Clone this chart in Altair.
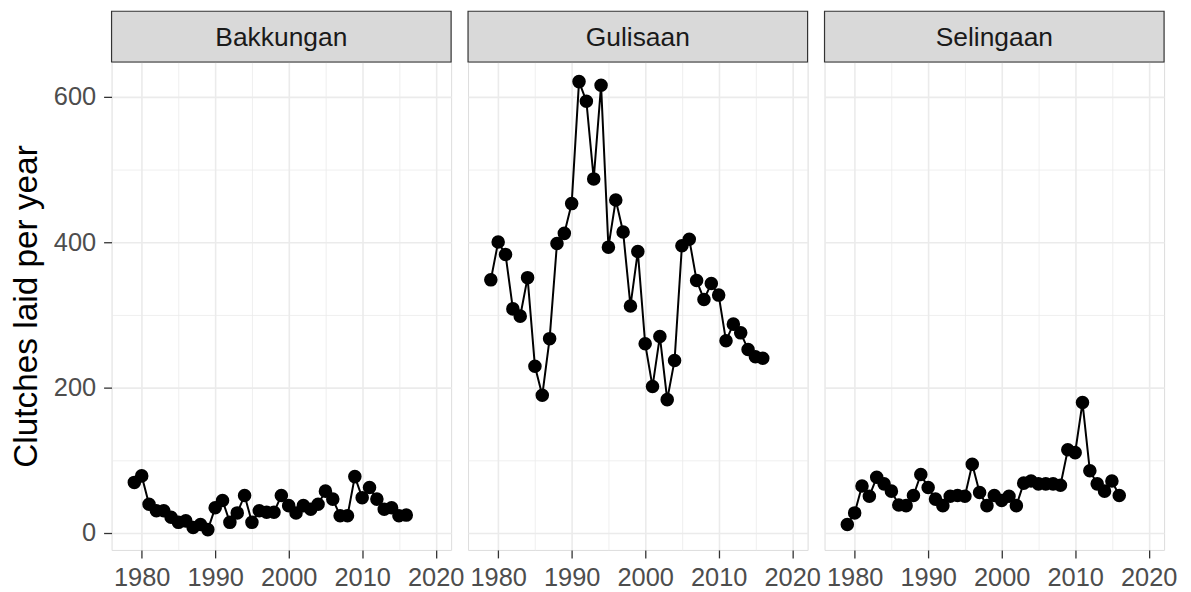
import altair as alt
import pandas as pd

years = list(range(1979, 2017))
sites = ["Bakkungan", "Gulisaan", "Selingaan"]
bakkungan = [69, 78, 39, 30, 30, 21, 14, 16, 7, 11,
             4, 34, 44, 14, 27, 51, 14, 30, 28, 28,
             51, 37, 27, 37, 32, 39, 57, 46, 23, 23,
             77, 48, 62, 46, 32, 34, 23, 24]
gulisaan = [348, 400, 383, 308, 298, 351, 229, 189, 267, 398,
            412, 453, 621, 594, 487, 616, 393, 458, 414, 312,
            387, 260, 201, 270, 183, 237, 395, 404, 347, 321,
            343, 327, 264, 287, 275, 252, 242, 240]
selingaan = [11, 27, 64, 50, 76, 67, 57, 38, 37, 51,
             80, 62, 46, 37, 50, 51, 50, 94, 55, 37,
             51, 44, 50, 37, 68, 71, 67, 67, 67, 65,
             114, 110, 179, 85, 67, 57, 71, 51]
x_ticks = [1980, 1985, 1990, 1995, 2000, 2005, 2010, 2015, 2020]
y_ticks = [0, 100, 200, 300, 400, 500, 600]
y_title = "Clutches laid per year"

rows = []
for site, vals in zip(sites, [bakkungan, gulisaan, selingaan]):
    for yr, v in zip(years, vals):
        rows.append({"site": site, "year": yr, "clutches": v})
df = pd.DataFrame(rows)

W, H = 341, 490
STRIP = 51
FONT = "Liberation Sans"
x_dom = [1975.9, 2022.1]
y_dom = [-24, 648]
major_x = "datum.value % 10 === 0"
major_y = "datum.value % 200 === 0"
GRID = "#EBEBEB"


def cond(test, a, b):
    return {"condition": {"test": test, "value": a}, "value": b}


def panel(i, site):
    x_axis = alt.Axis(
        values=x_ticks, title=None, domain=False, format="d",
        labelExpr=f"{major_x} ? datum.label : ''",
        labelFont=FONT, labelFontSize=25.5, labelColor="#4D4D4D",
        labelPadding=8, labelFlush=False, labelOverlap=False,
        tickSize=8, tickWidth=1.3,
        tickColor=cond(major_x, "#333333", "transparent"),
        gridColor=GRID, gridWidth=cond(major_x, 1.6, 0.8),
    )
    if i == 0:
        y_axis = alt.Axis(
            values=y_ticks, title=y_title, domain=False, format="d",
            labelExpr=f"{major_y} ? datum.label : ''",
            labelFont=FONT, labelFontSize=25.5, labelColor="#4D4D4D",
            labelPadding=8, labelFlush=False, labelOverlap=False,
            tickSize=8, tickWidth=1.3,
            tickColor=cond(major_y, "#333333", "transparent"),
            gridColor=GRID, gridWidth=cond(major_y, 1.6, 0.8),
            titleFont=FONT, titleFontSize=33.5, titleFontWeight="normal",
            titleColor="#000000", titlePadding=10,
        )
    else:
        y_axis = alt.Axis(
            values=y_ticks, title=None, domain=False, labels=False,
            ticks=False,
            gridColor=GRID, gridWidth=cond(major_y, 1.6, 0.8),
        )
    base = alt.Chart(df).transform_filter(alt.datum.site == site)
    enc = dict(
        x=alt.X("year:Q", scale=alt.Scale(domain=x_dom, nice=False, zero=False), axis=x_axis),
        y=alt.Y("clutches:Q", scale=alt.Scale(domain=y_dom, nice=False, zero=False), axis=y_axis),
    )
    line = base.mark_line(color="black", strokeWidth=2).encode(**enc)
    pts = base.mark_circle(color="black", size=185, opacity=1).encode(**enc)
    sdf = pd.DataFrame({"site": [site]})
    rect = alt.Chart(sdf).mark_rect(fill="#D9D9D9", stroke="#333333", strokeWidth=1.2).encode(
        x=alt.value(0), x2=alt.value(W), y=alt.value(-STRIP), y2=alt.value(0)
    )
    txt = alt.Chart(sdf).mark_text(
        font=FONT, fontSize=26.5, color="#1A1A1A", align="center", baseline="alphabetic"
    ).encode(x=alt.value(W / 2), y=alt.value(-16), text="site:N")
    return alt.layer(line, pts, rect, txt).properties(width=W, height=H)


chart = alt.hconcat(*[panel(i, s) for i, s in enumerate(sites)], spacing=17, bounds="flush").properties(
    padding={"left": 0, "top": 0, "right": 5, "bottom": 0}
).configure_view(stroke="#333333", strokeWidth=1.2).configure(font=FONT)

chart.save("out.html", embed_options={"renderer": "svg", "actions": False})
